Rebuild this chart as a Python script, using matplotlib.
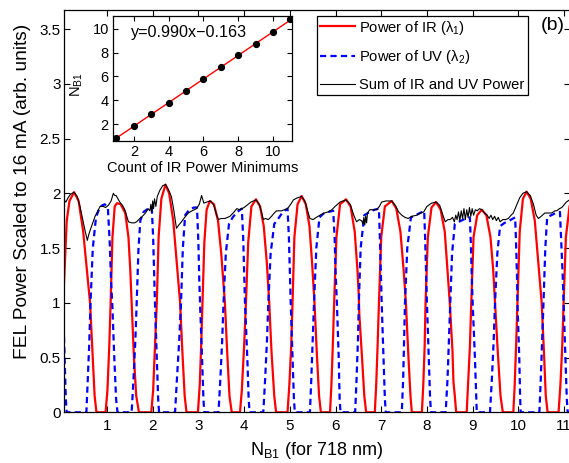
import matplotlib

matplotlib.use("Agg")
import matplotlib.pyplot as plt
import numpy as np

plt.rcParams["font.family"] = ["Liberation Sans", "DejaVu Sans"]
plt.rcParams["mathtext.fontset"] = "custom"
plt.rcParams["mathtext.rm"] = "Liberation Sans"
plt.rcParams["mathtext.it"] = "Liberation Sans:italic"
plt.rcParams["mathtext.default"] = "regular"

# IR power (lambda 1)
ir_x = [0.06, 0.12, 0.18, 0.28, 0.38, 0.48, 0.56, 0.63, 0.69, 0.73, 0.77, 0.97, 1.01, 1.05, 1.08,
        1.12, 1.17, 1.22, 1.30, 1.40, 1.47, 1.51, 1.54, 1.59, 1.64, 1.70, 1.97, 2.01, 2.05, 2.09,
        2.13, 2.19, 2.28, 2.36, 2.45, 2.53, 2.60, 2.65, 2.70, 2.74, 2.99, 3.03, 3.06, 3.09, 3.13,
        3.18, 3.25, 3.34, 3.43, 3.50, 3.58, 3.63, 3.68, 3.73, 3.91, 3.95, 4.00, 4.04, 4.09, 4.16,
        4.26, 4.35, 4.43, 4.50, 4.55, 4.60, 4.66, 4.70, 4.95, 4.99, 5.03, 5.06, 5.10, 5.17, 5.26,
        5.35, 5.43, 5.49, 5.54, 5.59, 5.64, 5.68, 5.88, 5.91, 5.94, 5.97, 6.02, 6.10, 6.23, 6.33,
        6.42, 6.48, 6.51, 6.52, 6.58, 6.63, 6.67, 6.86, 6.89, 6.92, 6.95, 7.00, 7.08, 7.23, 7.33,
        7.42, 7.49, 7.54, 7.59, 7.64, 7.67, 7.89, 7.92, 7.95, 7.97, 8.02, 8.10, 8.20, 8.30, 8.39,
        8.45, 8.50, 8.56, 8.58, 8.61, 8.64, 8.87, 8.90, 8.94, 8.97, 9.02, 9.10, 9.20, 9.30, 9.39,
        9.45, 9.49, 9.55, 9.61, 9.66, 9.89, 9.92, 9.95, 9.98, 10.03, 10.10, 10.18, 10.27, 10.36,
        10.43, 10.51, 10.56, 10.60, 10.64, 10.88, 10.92, 10.96, 10.99, 11.04, 11.12]
ir_y = [1.18, 1.75, 1.93, 2.01, 1.93, 1.65, 1.30, 1.00, 0.50, 0.15, 0.00, 0.00, 0.20, 0.60, 1.00,
        1.60, 1.88, 1.91, 1.90, 1.82, 1.60, 1.30, 1.00, 0.50, 0.15, 0.00, 0.00, 0.20, 0.60, 1.00,
        1.60, 1.95, 2.08, 2.00, 1.75, 1.35, 1.00, 0.55, 0.15, 0.00, 0.00, 0.25, 0.60, 1.00, 1.55,
        1.85, 1.93, 1.90, 1.75, 1.45, 1.00, 0.55, 0.15, 0.00, 0.00, 0.20, 0.60, 1.00, 1.55, 1.88,
        1.945, 1.88, 1.70, 1.35, 1.00, 0.55, 0.15, 0.00, 0.00, 0.25, 0.60, 1.00, 1.60, 1.90, 1.975,
        1.90, 1.70, 1.35, 1.00, 0.55, 0.15, 0.00, 0.00, 0.25, 0.60, 1.00, 1.60, 1.90, 1.945, 1.88,
        1.65, 1.30, 1.06, 0.90, 0.50, 0.15, 0.00, 0.00, 0.25, 0.60, 1.00, 1.60, 1.88, 1.93, 1.86,
        1.65, 1.30, 1.00, 0.55, 0.15, 0.00, 0.00, 0.25, 0.60, 1.00, 1.60, 1.87, 1.92, 1.85, 1.65,
        1.30, 1.00, 0.55, 0.28, 0.15, 0.00, 0.00, 0.25, 0.60, 1.00, 1.60, 1.80, 1.85, 1.80, 1.60,
        1.30, 1.00, 0.55, 0.15, 0.00, 0.00, 0.25, 0.60, 1.00, 1.65, 1.95, 2.015, 1.95, 1.75,
        1.40, 1.00, 0.55, 0.15, 0.00, 0.00, 0.25, 0.60, 1.00, 1.60, 1.88]

# UV power (lambda 2)
uv_x = [0.06, 0.08, 0.10, 0.12, 0.55, 0.58, 0.61, 0.64, 0.69, 0.76, 0.85, 0.95, 1.02, 1.06, 1.09,
        1.12, 1.16, 1.20, 1.23, 1.54, 1.58, 1.62, 1.65, 1.69, 1.73, 1.80, 1.90, 1.98, 2.01, 2.03,
        2.05, 2.09, 2.12, 2.14, 2.49, 2.53, 2.58, 2.62, 2.66, 2.71, 2.80, 2.90, 2.97, 3.00, 3.02,
        3.04, 3.08, 3.11, 3.13, 3.44, 3.48, 3.52, 3.55, 3.60, 3.67, 3.75, 3.85, 3.95, 3.98, 4.00,
        4.02, 4.07, 4.10, 4.12, 4.42, 4.46, 4.50, 4.53, 4.58, 4.66, 4.75, 4.85, 4.95, 4.98, 5.00,
        5.02, 5.06, 5.09, 5.11, 5.44, 5.47, 5.50, 5.53, 5.58, 5.65, 5.75, 5.85, 5.95, 5.98, 6.00,
        6.03, 6.07, 6.09, 6.11, 6.43, 6.46, 6.49, 6.51, 6.55, 6.63, 6.75, 6.85, 6.95, 6.97, 6.99,
        7.01, 7.05, 7.08, 7.10, 7.45, 7.48, 7.50, 7.52, 7.57, 7.65, 7.75, 7.85, 7.94, 7.96, 7.98,
        8.00, 8.04, 8.07, 8.09, 8.41, 8.45, 8.48, 8.51, 8.55, 8.61, 8.70, 8.80, 8.94, 8.96, 8.98,
        9.00, 9.05, 9.08, 9.09, 9.38, 9.42, 9.46, 9.49, 9.54, 9.60, 9.70, 9.80, 9.93, 9.95, 9.97,
        9.98, 10.02, 10.04, 10.05, 10.46, 10.49, 10.52, 10.55, 10.59, 10.63, 10.72, 10.82, 10.91,
        10.94, 10.97, 10.99, 11.03, 11.06, 11.08, 11.12]
uv_y = [0.69, 0.40, 0.12, 0.00, 0.00, 0.30, 0.60, 1.00, 1.50, 1.78, 1.88, 1.90, 1.87, 1.55, 1.20,
        0.95, 0.50, 0.12, 0.00, 0.00, 0.30, 0.65, 1.00, 1.50, 1.75, 1.83, 1.86, 1.87, 1.60, 1.30,
        1.00, 0.50, 0.12, 0.00, 0.00, 0.30, 0.65, 1.00, 1.50, 1.80, 1.85, 1.87, 1.87, 1.55, 1.20,
        0.95, 0.50, 0.12, 0.00, 0.00, 0.30, 0.65, 1.00, 1.45, 1.72, 1.78, 1.83, 1.86, 1.60, 1.30,
        1.00, 0.50, 0.12, 0.00, 0.00, 0.30, 0.65, 1.00, 1.45, 1.72, 1.77, 1.83, 1.86, 1.60, 1.30,
        1.00, 0.50, 0.12, 0.00, 0.00, 0.30, 0.65, 1.00, 1.50, 1.78, 1.82, 1.83, 1.84, 1.60, 1.30,
        1.00, 0.50, 0.12, 0.00, 0.00, 0.30, 0.65, 1.00, 1.50, 1.80, 1.83, 1.85, 1.86, 1.60, 1.30,
        1.00, 0.50, 0.12, 0.00, 0.00, 0.30, 0.65, 1.00, 1.50, 1.78, 1.80, 1.82, 1.84, 1.60, 1.30,
        1.00, 0.50, 0.12, 0.00, 0.00, 0.30, 0.65, 1.00, 1.45, 1.72, 1.74, 1.76, 1.78, 1.55, 1.25,
        1.00, 0.50, 0.12, 0.00, 0.00, 0.30, 0.65, 1.00, 1.45, 1.70, 1.73, 1.75, 1.78, 1.55, 1.25,
        1.00, 0.50, 0.12, 0.00, 0.00, 0.30, 0.65, 1.00, 1.50, 1.78, 1.80, 1.82, 1.83,
        1.55, 1.25, 1.00, 0.50, 0.12, 0.00, 0.00]

# sum of IR and UV power
sum_x = [0.06, 0.10, 0.15, 0.20, 0.28, 0.35, 0.41, 0.47, 0.52, 0.57, 0.60, 0.63, 0.68, 0.74, 0.80,
         0.85, 0.92, 0.97, 1.03, 1.09, 1.14, 1.17, 1.20, 1.28, 1.34, 1.39, 1.44, 1.47, 1.54, 1.60,
         1.65, 1.72, 1.80, 1.86, 1.90, 1.94, 1.96, 1.98, 2.00, 2.02, 2.04, 2.07, 2.10, 2.16, 2.22,
         2.28, 2.35, 2.41, 2.46, 2.52, 2.57, 2.63, 2.70, 2.78, 2.86, 2.96, 3.02, 3.07, 3.12, 3.18,
         3.27, 3.34, 3.40, 3.44, 3.50, 3.58, 3.64, 3.69, 3.76, 3.84, 3.90, 3.95, 4.00, 4.06, 4.15,
         4.26, 4.33, 4.38, 4.42, 4.47, 4.53, 4.60, 4.66, 4.71, 4.78, 4.82, 4.88, 4.95, 5.02, 5.08,
         5.17, 5.26, 5.33, 5.39, 5.44, 5.51, 5.58, 5.66, 5.75, 5.84, 5.92, 5.99, 6.10, 6.23, 6.32,
         6.40, 6.46, 6.52, 6.57, 6.60, 6.62, 6.64, 6.66, 6.68, 6.70, 6.75, 6.82, 6.90, 6.96, 7.01,
         7.10, 7.23, 7.31, 7.38, 7.45, 7.52, 7.59, 7.67, 7.78, 7.86, 7.93, 8.00, 8.10, 8.20, 8.28,
         8.35, 8.40, 8.46, 8.51, 8.56, 8.60, 8.63, 8.66, 8.69, 8.72, 8.75, 8.78, 8.81, 8.84, 8.87,
         8.90, 8.93, 8.96, 8.99, 9.02, 9.06, 9.10, 9.15, 9.20, 9.26, 9.32, 9.36, 9.40, 9.44, 9.48,
         9.52, 9.56, 9.60, 9.66, 9.72, 9.78, 9.84, 9.89, 9.95, 10.03, 10.10, 10.18, 10.26, 10.33,
         10.39, 10.44, 10.50, 10.58, 10.65, 10.73, 10.80, 10.84, 10.90, 10.95, 10.99, 11.05, 11.12]
sum_y = [1.94, 1.92, 1.96, 1.99, 2.01, 1.97, 1.88, 1.76, 1.66, 1.57, 1.62, 1.66, 1.72, 1.79, 1.84,
         1.88, 1.88, 1.87, 1.89, 1.93, 2.00, 1.98, 1.98, 1.92, 1.89, 1.85, 1.78, 1.74, 1.73, 1.73,
         1.74, 1.77, 1.80, 1.83, 1.86, 1.84, 1.90, 1.83, 1.93, 1.86, 1.95, 1.88, 1.97, 2.03, 2.07,
         2.08, 2.03, 1.97, 1.85, 1.68, 1.71, 1.74, 1.78, 1.82, 1.84, 1.86, 1.90, 1.98, 1.91, 1.92,
         1.93, 1.89, 1.80, 1.76, 1.77, 1.77, 1.78, 1.79, 1.82, 1.86, 1.85, 1.86, 1.87, 1.89, 1.92,
         1.94, 1.90, 1.83, 1.76, 1.77, 1.76, 1.79, 1.82, 1.84, 1.84, 1.84, 1.85, 1.86, 1.90, 1.94,
         1.96, 1.97, 1.93, 1.84, 1.77, 1.76, 1.78, 1.80, 1.82, 1.83, 1.85, 1.88, 1.92, 1.94, 1.90,
         1.80, 1.74, 1.76, 1.75, 1.72, 1.78, 1.71, 1.79, 1.73, 1.82, 1.85, 1.85, 1.85, 1.88, 1.92,
         1.93, 1.93, 1.89, 1.83, 1.80, 1.78, 1.77, 1.79, 1.80, 1.82, 1.83, 1.88, 1.91, 1.92, 1.89,
         1.80, 1.74, 1.76, 1.76, 1.78, 1.74, 1.80, 1.76, 1.83, 1.75, 1.84, 1.77, 1.86, 1.76, 1.85,
         1.78, 1.87, 1.79, 1.86, 1.80, 1.85, 1.84, 1.86, 1.85, 1.82, 1.80, 1.77, 1.80, 1.76, 1.79,
         1.75, 1.78, 1.74, 1.76, 1.76, 1.77, 1.80, 1.82, 1.88, 1.96, 2.00, 2.015, 1.98, 1.90,
         1.80, 1.77, 1.79, 1.82, 1.82, 1.82, 1.84, 1.84, 1.86, 1.87, 1.89, 1.92, 1.94]

# inset: linear fit of N_B1 vs count of IR power minimums
count_min = [1, 2, 3, 4, 5, 6, 7, 8, 9, 10, 11]
nb1_vals = [0.85, 1.82, 2.81, 3.80, 4.79, 5.80, 6.78, 7.77, 8.76, 9.76, 10.80]
fit_slope = 0.990
fit_intercept = -0.163

main_xticks = [1, 2, 3, 4, 5, 6, 7, 8, 9, 10, 11]
main_yticks = [0, 0.5, 1, 1.5, 2, 2.5, 3, 3.5]
inset_ticks = [2, 4, 6, 8, 10]

W, H = 569, 463
fig = plt.figure(figsize=(W / 100, H / 100), dpi=100)

ax = fig.add_axes([64 / W, 1 - 412.3 / H, 506 / W, 402.3 / H])
ax.plot(ir_x, ir_y, color="#ff0000", lw=1.6, label=r"Power of IR ($\lambda_1$)")
ax.plot(uv_x, uv_y, color="#0000ff", lw=1.6, dashes=(2.8, 1.9), label=r"Power of UV ($\lambda_2$)")
ax.plot(sum_x, sum_y, color="black", lw=0.8, label="Sum of IR and UV Power")
ax.set_xlim(0.06, 11.13)
ax.set_ylim(0, 3.674)
ax.set_xticks(main_xticks)
ax.set_yticks(main_yticks)
ax.set_yticklabels(["0", "0.5", "1", "1.5", "2", "2.5", "3", "3.5"])
ax.tick_params(direction="in", top=True, right=True, length=4, width=0.8, labelsize=11)
ax.tick_params(axis="x", pad=5)
ax.tick_params(axis="y", pad=2.5)
for sp in ax.spines.values():
    sp.set_linewidth(0.9)
ax.set_xlabel(r"N$_{B1}$ (for 718 nm)", fontsize=13)
ax.xaxis.set_label_coords(0.5, -0.068)
ax.set_ylabel("FEL Power Scaled to 16 mA (arb. units)", fontsize=13.8)
ax.yaxis.set_label_coords(-0.066, 0.55)

leg = ax.legend(loc="upper left", bbox_to_anchor=(316.7 / W, 1 - 15.7 / H),
                bbox_transform=fig.transFigure, fontsize=10.6, frameon=True, fancybox=False,
                framealpha=1, edgecolor="black", handlelength=2.4, handletextpad=0.3,
                labelspacing=0.8, borderpad=0.2, borderaxespad=0)
leg.get_frame().set_linewidth(0.9)

fig.text(553 / W, 1 - 25 / H, "(b)", fontsize=14, ha="center", va="center")

axin = fig.add_axes([113 / W, 1 - 140.7 / H, 179 / W, 125 / H])
fit_x = np.array([count_min[0], count_min[-1]], dtype=float)
axin.plot(fit_x, fit_slope * fit_x + fit_intercept, color="#ff0000", lw=1.0)
axin.plot(count_min, nb1_vals, "o", color="black", ms=4.2, zorder=3)
axin.set_xlim(0.8, 11.1)
axin.set_ylim(0.6, 11.1)
axin.set_xticks(inset_ticks)
axin.set_yticks(inset_ticks)
axin.tick_params(direction="in", top=True, right=True, length=3.5, width=0.8, labelsize=10.5, pad=3)
for sp in axin.spines.values():
    sp.set_linewidth(0.9)
axin.text(0.1, 0.865, "y=0.990x\u22120.163", transform=axin.transAxes, fontsize=11.6,
          ha="left", va="center")
axin.set_xlabel("Count of IR Power Minimums", fontsize=10.5)
axin.xaxis.set_label_coords(0.5, -0.165)
axin.set_ylabel(r"N$_{B1}$", fontsize=10.5)
axin.yaxis.set_label_coords(-0.155, 0.45)

fig.savefig("out.png", dpi=100)
